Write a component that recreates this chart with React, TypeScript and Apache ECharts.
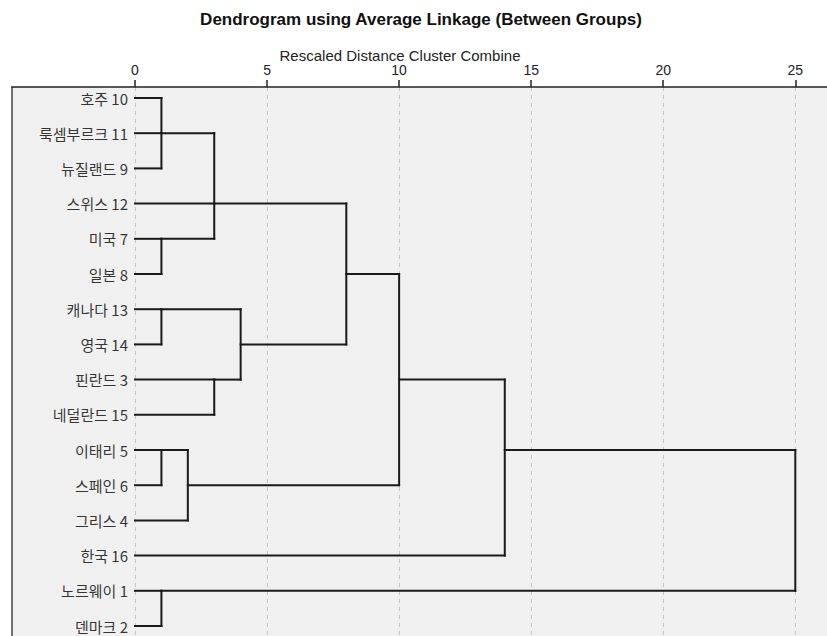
import React, { useEffect, useRef } from "react";
import * as echarts from "echarts";

// Leaf labels, top to bottom
const leafLabels = [
  "호주 10",
  "룩셈부르크 11",
  "뉴질랜드 9",
  "스위스 12",
  "미국 7",
  "일본 8",
  "캐나다 13",
  "영국 14",
  "핀란드 3",
  "네덜란드 15",
  "이태리 5",
  "스페인 6",
  "그리스 4",
  "한국 16",
  "노르웨이 1",
  "덴마크 2",
];

// Merges: cluster ids 0..15 are leaves, merges get ids 16, 17, ...
const mergeChildren: number[][] = [
  [0, 1, 2], // 16
  [4, 5], // 17
  [16, 3, 17], // 18
  [6, 7], // 19
  [8, 9], // 20
  [19, 20], // 21
  [18, 21], // 22
  [10, 11], // 23
  [23, 12], // 24
  [22, 24], // 25
  [25, 13], // 26
  [14, 15], // 27
  [26, 27], // 28
];
// rescaled distance at which each merge happens
const mergeDistance = [1, 1, 3, 1, 3, 4, 8, 1, 2, 10, 14, 1, 25];
// row at which each merged cluster's line leaves
const mergeRow = [1, 4, 3, 6, 8, 7, 5, 10, 11, 8, 10, 14, 12];

const tickValues = [0, 5, 10, 15, 20, 25];

const TITLE = "Dendrogram using Average Linkage (Between Groups)";
const AXIS_TITLE = "Rescaled Distance Cluster Combine";

function buildSegments() {
  const n = leafLabels.length;
  const dist: number[] = [];
  const row: number[] = [];
  for (let i = 0; i < n; i++) {
    dist.push(0);
    row.push(i);
  }
  const segs: number[][] = [];
  mergeChildren.forEach((children, k) => {
    const D = mergeDistance[k];
    let rMin = Infinity;
    let rMax = -Infinity;
    children.forEach((c) => {
      if (D > dist[c]) segs.push([dist[c], row[c], D, row[c]]);
      rMin = Math.min(rMin, row[c]);
      rMax = Math.max(rMax, row[c]);
    });
    if (rMax > rMin) segs.push([D, rMin, D, rMax]);
    dist.push(D);
    row.push(mergeRow[k]);
  });
  return segs;
}

export default function App() {
  const ref = useRef<HTMLDivElement>(null);
  useEffect(() => {
    if (!ref.current) return;
    const chart = echarts.init(ref.current, null, { renderer: "svg" });
    const segs = buildSegments();
    const gridLeft = 12;
    const gridTop = 87;
    const W = 827;
    const H = 636;
    // pixel scale: value 0 at x=135, 25 at x=795.3
    const px0 = 135;
    const pxPerUnit = (795.3 - 135) / 25;
    const xMin = (gridLeft - px0) / pxPerUnit;
    const xMax = (W - px0) / pxPerUnit;
    const py0 = 98;
    const pyPerRow = 35.2;
    const yMin = (gridTop - py0) / pyPerRow;
    const yMax = (H - py0) / pyPerRow;
    const font = "'Liberation Sans', Arial, sans-serif";
    const kfont = "'Noto Sans CJK KR', 'Liberation Sans', sans-serif";

    chart.setOption({
      animation: false,
      backgroundColor: "#ffffff",
      graphic: [
        {
          type: "text",
          x: 421,
          y: 19,
          style: {
            text: TITLE,
            fill: "#111",
            font: `bold 17px ${font}`,
            textAlign: "center",
            textVerticalAlign: "middle",
          },
        },
        {
          type: "text",
          x: 400,
          y: 55,
          style: {
            text: AXIS_TITLE,
            fill: "#222",
            font: `15px ${font}`,
            textAlign: "center",
            textVerticalAlign: "middle",
          },
        },
      ],
      grid: {
        left: gridLeft,
        top: gridTop,
        right: 0,
        bottom: 0,
        show: true,
        backgroundColor: "#f0f0f0",
        borderWidth: 0,
      },
      xAxis: {
        type: "value",
        position: "top",
        min: xMin,
        max: xMax,
        axisLine: { show: true, onZero: false, lineStyle: { color: "#222", width: 1.5 } },
        axisTick: {
          show: true,
          length: 7,
          customValues: tickValues,
          lineStyle: { color: "#222", width: 1.5 },
        },
        axisLabel: {
          show: true,
          customValues: tickValues,
          margin: 10,
          color: "#222",
          fontSize: 14,
          fontFamily: font,
        },
        splitLine: { show: false },
      },
      yAxis: {
        type: "value",
        inverse: true,
        min: yMin,
        max: yMax,
        position: "left",
        axisLine: { show: true, onZero: false, lineStyle: { color: "#444", width: 1.5 } },
        axisTick: { show: false },
        axisLabel: { show: false },
        splitLine: { show: false },
      },
      series: [
        {
          type: "scatter",
          silent: true,
          symbolSize: 0,
          z: 1,
          data: leafLabels.map((name, i) => ({ name, value: [0, i] })),
          label: {
            show: true,
            position: "left",
            distance: 7,
            formatter: (p: any) => p.name,
            color: "#000",
            fontSize: 15,
            fontFamily: kfont,
          },
          markLine: {
            silent: true,
            z: 0,
            symbol: "none",
            label: { show: false },
            lineStyle: { color: "#c4c4c4", type: [4, 4], width: 1 },
            data: tickValues.map((v) => ({ xAxis: v })),
          },
        },
        {
          type: "custom",
          silent: true,
          z: 3,
          data: segs,
          renderItem: (params: any, api: any) => {
            const p1 = api.coord([api.value(0), api.value(1)]);
            const p2 = api.coord([api.value(2), api.value(3)]);
            return {
              type: "line",
              shape: { x1: p1[0], y1: p1[1], x2: p2[0], y2: p2[1] },
              style: { stroke: "#1a1a1a", lineWidth: 2, lineCap: "square" },
            };
          },
          encode: { x: [0, 2], y: [1, 3] },
        },
      ],
    });
    return () => chart.dispose();
  }, []);
  return (
    <div
      ref={ref}
      style={{ position: "fixed", left: 0, top: 0, width: 827, height: 636 }}
    />
  );
}
